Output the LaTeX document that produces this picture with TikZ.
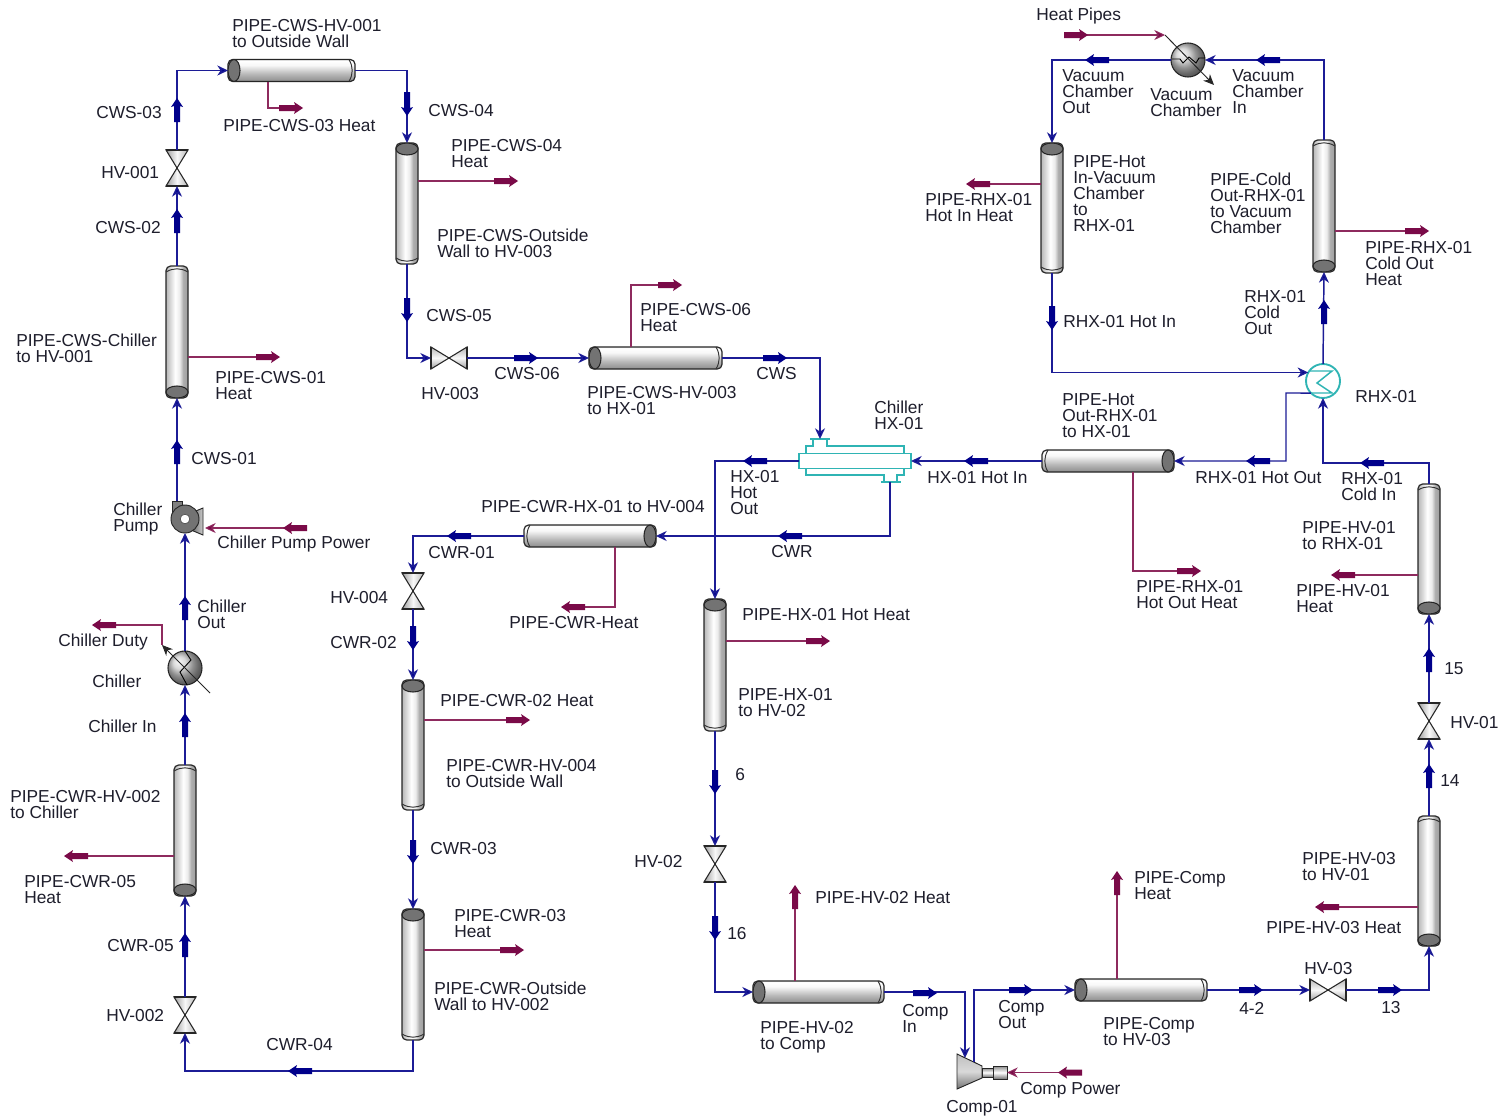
\documentclass[tikz,border=0pt]{standalone}
\usepackage{fontspec}
\setmainfont{Liberation Sans}
\usetikzlibrary{arrows.meta}
\definecolor{flownavy}{HTML}{00008B}
\definecolor{flowline}{HTML}{1C1C96}
\definecolor{heatbold}{HTML}{7A0A48}
\definecolor{heatline}{HTML}{8E2A5E}
\definecolor{hxteal}{HTML}{2FB4B4}
\definecolor{labink}{HTML}{1E1E2C}
\pgfdeclarehorizontalshading{pipevshade}{100bp}{rgb(0bp)=(0.45,0.45,0.45);rgb(22bp)=(0.68,0.68,0.68);rgb(36bp)=(0.86,0.86,0.86);rgb(46bp)=(1,1,1);rgb(56bp)=(0.92,0.92,0.92);rgb(64bp)=(0.68,0.68,0.68);rgb(80bp)=(0.6,0.6,0.6);rgb(100bp)=(0.35,0.35,0.35)}
\pgfdeclareverticalshading{pipehshade}{100bp}{rgb(0bp)=(0.3,0.3,0.3);rgb(25bp)=(0.55,0.55,0.55);rgb(42bp)=(0.72,0.72,0.72);rgb(62bp)=(0.97,0.97,0.97);rgb(72bp)=(1,1,1);rgb(85bp)=(0.8,0.8,0.8);rgb(100bp)=(0.5,0.5,0.5)}
\pgfdeclarehorizontalshading{valveshade}{100bp}{rgb(0bp)=(0.5,0.5,0.5);rgb(25bp)=(0.62,0.62,0.62);rgb(50bp)=(0.97,0.97,0.97);rgb(75bp)=(0.72,0.72,0.72);rgb(100bp)=(0.5,0.5,0.5)}
\tikzset{
  stream/.style={draw=flowline,line width=1.1pt,-{Stealth[length=8pt,width=7.5pt,inset=2.5pt,fill=flownavy]}},
  heat/.style={draw=heatline,line width=0.8pt},
  heatin/.style={heat,-{Stealth[length=8pt,width=7.5pt,inset=2.5pt,fill=heatbold]}},
  pipebase/.style={draw=black!85,line width=0.9pt,rounded corners=3.5pt,inner sep=0,outer sep=0},
  pipev/.style={pipebase,shading=pipevshade,minimum width=16.5pt,minimum height=#1*0.75pt},
  pipeh/.style={pipebase,shading=pipehshade,minimum height=16.5pt,minimum width=#1*0.75pt},
  pipecap/.style={draw=black!85,line width=0.8pt,fill=black!55},
  valvenode/.style={inner sep=0,outer sep=0},
  valvev/.style={valvenode,minimum width=16.5pt,minimum height=27pt},
  valveh/.style={valvenode,minimum width=27pt,minimum height=16.5pt},
  valvebody/.style={draw=black!85,line width=0.8pt,shading=valveshade},
  sphere/.style={circle,draw=black!85,line width=0.8pt,inner sep=0,outer sep=0,minimum size=25.5pt,ball color=black!20},
  lab/.style={anchor=west,align=left,inner sep=0,text=labink,font=\fontsize{13pt}{12pt}\selectfont},
  blue/.style={fill=flownavy},
  maroon/.style={fill=heatbold},
  R/.style={rotate=0},L/.style={rotate=180},U/.style={rotate=90},D/.style={rotate=-90},
  pics/bold/.style={code={\path[pic actions] (-12,-3)--(4,-3)--(3,-6)--(12,0)--(3,6)--(4,3)--(-12,3)--cycle;}}
}
\newcounter{lb}
\newcommand\lbl[3]{\stepcounter{lb}\node[lab] (lb\arabic{lb}) at (#1,#2+1) {#3};}
\newcommand\barr[4]{\pic[#1,#4] at (#2,#3) {bold};}
% name, x, y, length, cap: 1 = north, -1 = south
\newcommand\pipeV[5]{\node[pipev=#4] (#1) at (#2,#3) {};
  \ifnum#5=1
    \draw[pipecap] ([yshift=-4.5pt]#1.north) ellipse (8.25pt and 4.5pt);
    \draw[draw=black!80,line width=0.7pt] ([yshift=4.5pt]#1.south west) to[bend right=30] ([yshift=4.5pt]#1.south east);
  \else
    \draw[pipecap] ([yshift=4.5pt]#1.south) ellipse (8.25pt and 4.5pt);
    \draw[draw=black!80,line width=0.7pt] ([yshift=-4.5pt]#1.north west) to[bend left=30] ([yshift=-4.5pt]#1.north east);
  \fi}
% name, x, y, length, cap: 1 = west, -1 = east
\newcommand\pipeH[5]{\node[pipeh=#4] (#1) at (#2,#3) {};
  \ifnum#5=1
    \draw[pipecap] ([xshift=4.5pt]#1.west) ellipse (4.5pt and 8.25pt);
    \draw[draw=black!80,line width=0.7pt] ([xshift=-4.5pt]#1.north east) to[bend left=30] ([xshift=-4.5pt]#1.south east);
  \else
    \draw[pipecap] ([xshift=-4.5pt]#1.east) ellipse (4.5pt and 8.25pt);
    \draw[draw=black!80,line width=0.7pt] ([xshift=4.5pt]#1.north west) to[bend right=30] ([xshift=4.5pt]#1.south west);
  \fi}
\newcommand\valveV[3]{\node[valvev] (#1) at (#2,#3) {};
  \draw[valvebody] (#1.north west)--(#1.north east)--(#1.south west)--(#1.south east)--cycle;
  \draw[black!85,line width=1.1pt] (#1.north west)--(#1.north east) (#1.south west)--(#1.south east);}
\newcommand\valveH[3]{\node[valveh] (#1) at (#2,#3) {};
  \draw[valvebody,shading angle=90] (#1.north west)--(#1.south west)--(#1.north east)--(#1.south east)--cycle;
  \draw[black!85,line width=1.1pt] (#1.north west)--(#1.south west) (#1.north east)--(#1.south east);}
\begin{document}
\begin{tikzpicture}[x=0.75pt,y=-0.75pt]
\useasboundingbox (0,0) rectangle (1503,1117);
\fill[white] (0,0) rectangle (1503,1117);
% ---------- pipes
\pipeV{pchill}{177}{332}{132}{-1}
\pipeV{poutside}{407}{203.5}{121}{1}
\pipeV{photin}{1052}{208}{130}{1}
\pipeV{pcoldout}{1324}{206}{132}{-1}
\pipeV{phvone}{1429}{549}{130}{-1}
\pipeV{phvthree}{1429}{881}{130}{-1}
\pipeV{pcwrtwo}{185}{830.5}{131}{-1}
\pipeV{pcwrfour}{413}{745}{130}{1}
\pipeV{pcwrout}{413}{974.5}{131}{1}
\pipeV{phxone}{715}{665}{132}{1}
\pipeH{pcwsone}{291.5}{70.5}{127}{1}
\pipeH{pcwsthree}{655.5}{358}{133}{1}
\pipeH{photout}{1108}{461}{132}{-1}
\pipeH{pcwrhx}{590}{536}{132}{-1}
\pipeH{phvtwo}{818.5}{992}{131}{1}
\pipeH{pcomp}{1141}{990}{132}{1}
% ---------- valves
\valveV{hvone}{177}{168}
\valveH{hvthree}{449}{358}
\valveV{hvfour}{413}{591}
\valveV{hvtwo}{185}{1015}
\valveV{hvb}{715}{864}
\valveV{hva}{1429}{721}
\valveH{hvc}{1328}{990}
% ---------- chiller HX
\draw[draw=hxteal,line width=1.1pt] (806,453)--(806,446)--(813,446)--(813,439)
  (810,439)--(830,439) (827,439)--(827,446)--(904,446)--(904,453)
  (806,468)--(806,475)--(884,475)--(884,482) (881,482)--(901,482)
  (897,482)--(897,475)--(904,475)--(904,468);
\node[draw=hxteal,line width=1.1pt,inner sep=0,outer sep=0,minimum width=84pt,minimum height=11.25pt] (hx) at (855,461) {};
\coordinate (hxin) at (820,439);
\coordinate (hxout) at (890,482);
% ---------- RHX
\node[circle,draw=hxteal,line width=1.4pt,inner sep=0,outer sep=0,minimum size=25.5pt] (rhx) at (1323,381) {};
\draw[draw=hxteal,line width=1.1pt] (1309,371)--(1332,371)--(1317,383)--(1332,393)--(1309,393);
% ---------- chiller and vacuum chamber
\node[sphere] (chiller) at (185,668) {};
\draw[black,line width=0.7pt] (185,651)--(191,660)--(180,672)--(187,685);
\coordinate (duA) at (210,693);
\coordinate (duB) at (162,645);
\draw[black!85,line width=0.7pt,-{Stealth[length=8pt,width=7pt]}] (duA)--(duB);
\node[sphere] (vac) at (1188,60) {};
\draw[black,line width=0.7pt] (1172,59)--(1180,59)--(1183,63)--(1189,57)--(1196,63)--(1199,58)--(1205,58);
\coordinate (vaA) at (1165,35);
\coordinate (vaB) at (1214,85);
\draw[black!85,line width=0.7pt,-{Stealth[length=8pt,width=7pt]}] (vaA)--(vaB);
% ---------- pump
\path[draw=black!85,line width=0.7pt,left color=black!60,right color=black!20] (191,513)--(203,508)--(203,535)--(191,530)--cycle;
\path[draw=black!85,line width=0.7pt,fill=black!50] (172,501)--(182,501)--(182,520)--(172,520)--cycle;
\node[circle,draw=black!85,line width=0.7pt,fill=black!55,inner sep=0,outer sep=0,minimum size=21pt] (pump) at (185,519) {};
\fill[white] (185,519) circle (3.6pt);
\draw[black!70,line width=0.5pt] (185,519) circle (3.6pt);
\coordinate (pumpout) at (177,501);
\coordinate (pumpin) at (205,528);
\coordinate (pumpsrc) at (295,528);
% ---------- compressor
\path[draw=black!85,line width=0.7pt,top color=black!25,bottom color=black!55,middle color=white!85!black] (957,1054)--(982,1066)--(982,1078)--(957,1089)--cycle;
\path[draw=black!85,line width=0.7pt,top color=black!45,bottom color=black!55,middle color=white] (982,1068)--(993,1068)--(993,1077)--(982,1077)--cycle;
\node[draw=black!85,line width=0.7pt,top color=black!45,bottom color=black!55,middle color=white,inner sep=0,outer sep=0,minimum width=10.5pt,minimum height=9.75pt] (comp) at (1000,1072.5) {};
\coordinate (compin) at (965,1058);
\coordinate (compout) at (974,1062);
\coordinate (compsrc) at (1070,1072.5);
% ---------- process streams
\draw[stream] (pumpout)--(pchill.south);
\draw[stream] (pchill.north)--(hvone.south);
\draw[stream] (hvone.north)|-(pcwsone.west);
\draw[stream] (pcwsone.east)-|(poutside.north);
\draw[stream] (poutside.south)|-(hvthree.west);
\draw[stream] (hvthree.east)--(pcwsthree.west);
\draw[stream] (pcwsthree.east)-|(hxin);
\draw[stream] (hxout)|-(pcwrhx.east);
\draw[stream] (photout.west)--(hx.east);
\draw[stream] (hx.west)-|(phxone.north);
\draw[stream] (phxone.south)--(hvb.north);
\draw[stream] (hvb.south)|-(phvtwo.west);
\draw[stream] (phvtwo.east)-|(compin);
\draw[stream] (compout)|-(pcomp.west);
\draw[stream] (pcomp.east)--(hvc.west);
\draw[stream] (hvc.east)-|(phvthree.south);
\draw[stream] (phvthree.north)--(hva.south);
\draw[stream] (hva.north)--(phvone.south);
\draw[stream] (phvone.north)--++(0,-21)-|(rhx.south);
\coordinate (hotbend) at (1286,393);
\draw[stream] (rhx.225)--(hotbend)|-(photout.east);
\draw[stream] (rhx.north)--(pcoldout.south);
\draw[stream] (pcoldout.north)|-(vac.east);
\draw[stream] (vac.west)-|(photin.north);
\draw[stream] (photin.south)|-(rhx.150);
\draw[stream] (pcwrhx.west)-|(hvfour.north);
\draw[stream] (hvfour.south)--(pcwrfour.north);
\draw[stream] (pcwrfour.south)--(pcwrout.north);
\draw[stream] (pcwrout.south)--++(0,31)-|(hvtwo.south);
\draw[stream] (hvtwo.north)--(pcwrtwo.south);
\draw[stream] (pcwrtwo.north)--(chiller.south);
\draw[stream] (chiller.north)--(pump.south);
% ---------- bold stream arrows
\barr{blue}{177}{452}{U}
\barr{blue}{177}{221}{U}
\barr{blue}{177}{110}{U}
\barr{blue}{407}{104}{D}
\barr{blue}{407}{310}{D}
\barr{blue}{526}{358}{R}
\barr{blue}{775}{358}{R}
\barr{blue}{790}{536}{L}
\barr{blue}{976}{461}{L}
\barr{blue}{755}{461}{L}
\barr{blue}{715}{782}{D}
\barr{blue}{715}{928}{D}
\barr{blue}{925}{993}{R}
\barr{blue}{1021}{990}{R}
\barr{blue}{1251}{990}{R}
\barr{blue}{1390}{990}{R}
\barr{blue}{1429}{776}{U}
\barr{blue}{1429}{660}{U}
\barr{blue}{1372}{463}{L}
\barr{blue}{1258}{461}{L}
\barr{blue}{1324}{312}{U}
\barr{blue}{1268}{60}{L}
\barr{blue}{1097}{60}{L}
\barr{blue}{1052}{318}{D}
\barr{blue}{459}{536}{L}
\barr{blue}{413}{638}{D}
\barr{blue}{413}{852}{D}
\barr{blue}{300}{1071}{L}
\barr{blue}{185}{945}{U}
\barr{blue}{185}{725}{U}
\barr{blue}{185}{608}{U}
% ---------- heat streams
\coordinate (hA) at (290,108);
\draw[heat] (pcwsone.south -| 268,0)|-(hA);
\coordinate (hB) at (506,181);
\draw[heat] (poutside.east |- 0,181)--(hB);
\coordinate (hC) at (268,357);
\draw[heat] (pchill.east |- 0,357)--(hC);
\coordinate (hD) at (670,285);
\draw[heat] (pcwsthree.north -| 631,0)|-(hD);
\coordinate (hE) at (978,184);
\draw[heat] (photin.west |- 0,184)--(hE);
\coordinate (hF) at (1417,231);
\draw[heat] (pcoldout.east |- 0,231)--(hF);
\coordinate (hG) at (1076,35);
\draw[heatin] (hG)--(vaA);
\coordinate (hH) at (1189,571);
\draw[heat] (photout.south -| 1133,0)|-(hH);
\coordinate (hI) at (1343,575);
\draw[heat] (phvone.west |- 0,575)--(hI);
\coordinate (hJ) at (1327,907);
\draw[heat] (phvthree.west |- 0,907)--(hJ);
\coordinate (hK) at (1117,883);
\draw[heat] (pcomp.north -| 1117,0)--(hK);
\coordinate (hL) at (795,897);
\draw[heat] (phvtwo.north -| 795,0)--(hL);
\coordinate (hM) at (818,641);
\draw[heat] (phxone.east |- 0,641)--(hM);
\coordinate (hN) at (573,607);
\draw[heat] (pcwrhx.south -| 615,0)|-(hN);
\coordinate (hO) at (506,720);
\draw[heat] (pcwrfour.east |- 0,720)--(hO);
\coordinate (hP) at (512,950);
\draw[heat] (pcwrout.east |- 0,950)--(hP);
\coordinate (hQ) at (76,856);
\draw[heat] (pcwrtwo.west |- 0,856)--(hQ);
\draw[heatin] (pumpsrc)--(pumpin);
\draw[heatin] (compsrc)--(comp.east);
\coordinate (hR) at (104,625);
\draw[heat] (duB)|-(hR);
% ---------- bold heat arrows
\barr{maroon}{291}{108}{R}
\barr{maroon}{506}{181}{R}
\barr{maroon}{268}{357}{R}
\barr{maroon}{670}{285}{R}
\barr{maroon}{978}{184}{L}
\barr{maroon}{1417}{231}{R}
\barr{maroon}{1076}{35}{R}
\barr{maroon}{1189}{571}{R}
\barr{maroon}{1343}{575}{L}
\barr{maroon}{1327}{907}{L}
\barr{maroon}{1117}{883}{U}
\barr{maroon}{795}{897}{U}
\barr{maroon}{818}{641}{R}
\barr{maroon}{573}{607}{L}
\barr{maroon}{518}{720}{R}
\barr{maroon}{512}{950}{R}
\barr{maroon}{76}{856}{L}
\barr{maroon}{295}{528}{L}
\barr{maroon}{1070}{1072.5}{L}
\barr{maroon}{104}{625}{L}
% ---------- labels
\lbl{232}{33}{PIPE-CWS-HV-001\\to Outside Wall}
\lbl{428}{110}{CWS-04}
\lbl{451}{153}{PIPE-CWS-04\\Heat}
\lbl{437}{242}{PIPE-CWS-Outside\\Wall to HV-003}
\lbl{426}{315}{CWS-05}
\lbl{421}{393}{HV-003}
\lbl{494}{373}{CWS-06}
\lbl{640}{317}{PIPE-CWS-06\\Heat}
\lbl{587}{400}{PIPE-CWS-HV-003\\to HX-01}
\lbl{756}{373}{CWS}
\lbl{874}{414}{Chiller\\HX-01}
\lbl{96}{112}{CWS-03}
\lbl{101}{172}{HV-001}
\lbl{95}{227}{CWS-02}
\lbl{16}{347}{PIPE-CWS-Chiller\\to HV-001}
\lbl{215}{385}{PIPE-CWS-01\\Heat}
\lbl{191}{458}{CWS-01}
\lbl{113}{518}{Chiller\\Pump}
\lbl{217}{543}{Chiller Pump Power}
\lbl{223}{125}{PIPE-CWS-03 Heat}
\lbl{481}{506}{PIPE-CWR-HX-01 to HV-004}
\lbl{428}{552}{CWR-01}
\lbl{771}{551}{CWR}
\lbl{330}{597}{HV-004}
\lbl{330}{642}{CWR-02}
\lbl{509}{622}{PIPE-CWR-Heat}
\lbl{440}{700}{PIPE-CWR-02 Heat}
\lbl{446}{773}{PIPE-CWR-HV-004\\to Outside Wall}
\lbl{430}{848}{CWR-03}
\lbl{454}{923}{PIPE-CWR-03\\Heat}
\lbl{434}{995}{PIPE-CWR-Outside\\Wall to HV-002}
\lbl{266}{1044}{CWR-04}
\lbl{106}{1015}{HV-002}
\lbl{107}{945}{CWR-05}
\lbl{24}{889}{PIPE-CWR-05\\Heat}
\lbl{10}{804}{PIPE-CWR-HV-002\\to Chiller}
\lbl{88}{725}{Chiller In}
\lbl{92}{680}{Chiller}
\lbl{58}{641}{Chiller Duty}
\lbl{197}{613}{Chiller\\Out}
\lbl{730}{492}{HX-01\\Hot\\Out}
\lbl{927}{477}{HX-01 Hot In}
\lbl{1062}{415}{PIPE-Hot\\Out-RHX-01\\to HX-01}
\lbl{1195}{477}{RHX-01 Hot Out}
\lbl{1341}{486}{RHX-01\\Cold In}
\lbl{1355}{396}{RHX-01}
\lbl{1244}{312}{RHX-01\\Cold\\Out}
\lbl{1063}{321}{RHX-01 Hot In}
\lbl{1073}{193}{PIPE-Hot\\In-Vacuum\\Chamber\\to\\RHX-01}
\lbl{925}{207}{PIPE-RHX-01\\Hot In Heat}
\lbl{1210}{202}{PIPE-Cold\\Out-RHX-01\\to Vacuum\\Chamber}
\lbl{1365}{263}{PIPE-RHX-01\\Cold Out\\Heat}
\lbl{1036}{15}{Heat Pipes}
\lbl{1062}{91}{Vacuum\\Chamber\\Out}
\lbl{1150}{102}{Vacuum\\Chamber}
\lbl{1232}{91}{Vacuum\\Chamber\\In}
\lbl{1136}{594}{PIPE-RHX-01\\Hot Out Heat}
\lbl{1302}{535}{PIPE-HV-01\\to RHX-01}
\lbl{1296}{598}{PIPE-HV-01\\Heat}
\lbl{1444}{668}{15}
\lbl{1450}{722}{HV-01}
\lbl{1440}{780}{14}
\lbl{1302}{866}{PIPE-HV-03\\to HV-01}
\lbl{1266}{927}{PIPE-HV-03 Heat}
\lbl{1304}{968}{HV-03}
\lbl{1381}{1007}{13}
\lbl{1239}{1007}{4-2}
\lbl{1134}{885}{PIPE-Comp\\Heat}
\lbl{1103}{1031}{PIPE-Comp\\to HV-03}
\lbl{998}{1014}{Comp\\Out}
\lbl{902}{1017}{Comp\\In}
\lbl{1020}{1089}{Comp Power}
\lbl{946}{1107}{Comp-01}
\lbl{760}{1036}{PIPE-HV-02\\to Comp}
\lbl{815}{897}{PIPE-HV-02 Heat}
\lbl{727}{933}{16}
\lbl{634}{861}{HV-02}
\lbl{735}{774}{6}
\lbl{738}{702}{PIPE-HX-01\\to HV-02}
\lbl{742}{614}{PIPE-HX-01 Hot Heat}
\end{tikzpicture}
\end{document}
